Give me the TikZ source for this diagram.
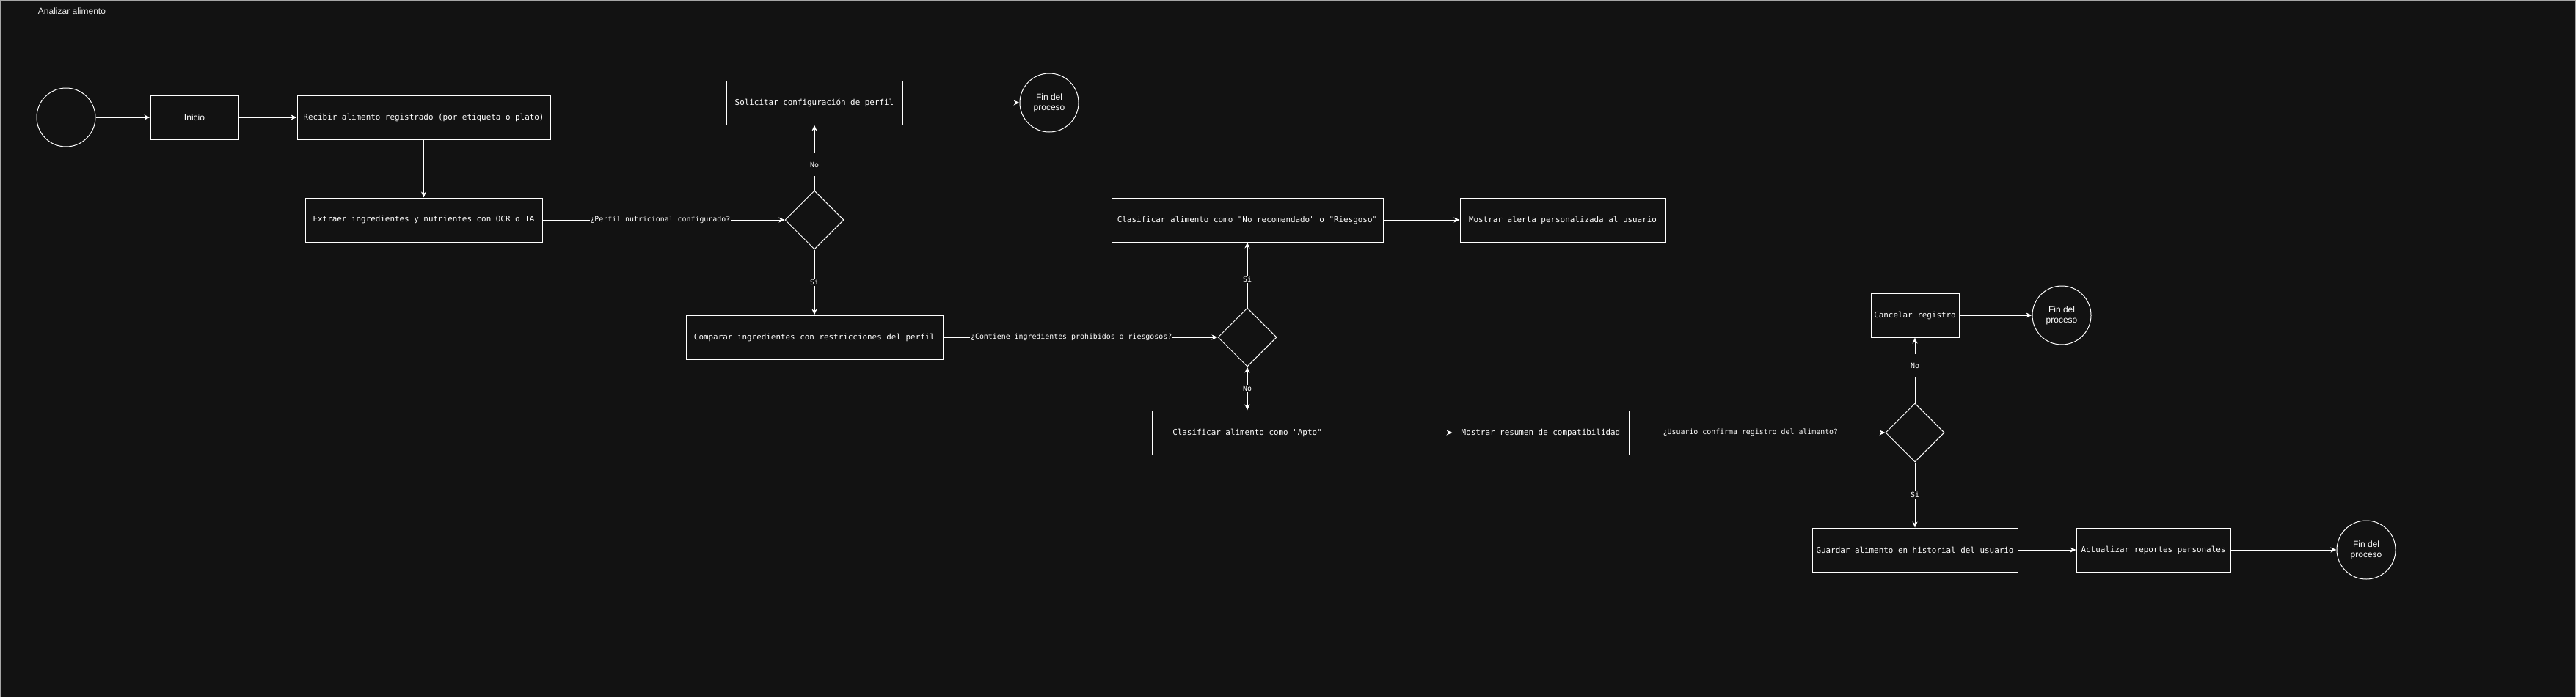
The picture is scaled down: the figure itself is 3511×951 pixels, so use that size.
\documentclass[tikz,border=0pt]{standalone}
\usepackage{fontspec}
\setmainfont{Liberation Sans}
\setmonofont{DejaVu Sans Mono}
\usetikzlibrary{shapes.geometric,arrows.meta}
\definecolor{fondo}{HTML}{121212}

\begin{document}
\begin{tikzpicture}[x=1pt, y=-1pt, line width=1pt, white,
  >={Stealth[length=8pt,width=7pt,inset=2.5pt]},
  caja/.style={draw=white, text=white, minimum height=60pt, inner sep=2pt, font=\ttfamily\fontsize{10.9}{13}\selectfont},
  rombo/.style={draw=white, diamond, minimum width=80pt, minimum height=80pt, inner sep=0pt},
  fin/.style={draw=white, circle, minimum size=80pt, inner sep=0pt, align=center, text=white, font=\fontsize{12}{14}\selectfont},
  etiq/.style={fill=fondo, text=white, inner sep=1pt, font=\ttfamily\fontsize{9.9}{12}\selectfont}]
\fill[fondo] (0,0) rectangle (3511,951);
\draw[gray!70, line width=1.5pt] (0.75,0.75) rectangle (3510.25,950.25);
\node[text=white!92!black, font=\fontsize{12}{14}\selectfont] (titulo) at (98,15) {Analizar alimento};

% primera parte
\node[fin] (ini) at (90,160) {};
\node[caja, minimum width=120pt, font=\fontsize{12}{14}\selectfont] (inicio) at (265,160) {Inicio};
\node[caja, minimum width=345pt] (recibir) at (577.5,160) {Recibir alimento registrado (por etiqueta o plato)};
\node[caja, minimum width=323pt] (extraer) at (577.5,300) {Extraer ingredientes y nutrientes con OCR o IA};
\node[rombo] (d1) at (1110,300) {};
\node[caja, minimum width=240pt] (solicitar) at (1110,140) {Solicitar configuración de perfil};
\node[fin] (fin1) at (1430,140) {Fin del\\proceso};
\node[caja, minimum width=350pt] (comparar) at (1110,460) {Comparar ingredientes con restricciones del perfil};

% clasificacion
\node[rombo] (d2) at (1700,460) {};
\node[caja, minimum width=370pt] (norec) at (1700,300) {Clasificar alimento como "No recomendado" o "Riesgoso"};
\node[caja, minimum width=280pt] (alerta) at (2130,300) {Mostrar alerta personalizada al usuario};
\node[caja, minimum width=260pt] (apto) at (1700,590) {Clasificar alimento como "Apto"};
\node[caja, minimum width=240pt] (resumen) at (2100,590) {Mostrar resumen de compatibilidad};

% registro
\node[rombo] (d3) at (2610,590) {};
\node[caja, minimum width=120pt] (cancelar) at (2610,430) {Cancelar registro};
\node[fin] (fin2) at (2810,430) {Fin del\\proceso};
\node[caja, minimum width=280pt] (guardar) at (2610,750) {Guardar alimento en historial del usuario};
\node[caja, minimum width=210pt] (actualizar) at (2935,750) {Actualizar reportes personales};
\node[fin] (fin3) at (3225,750) {Fin del\\proceso};

\draw[->] (ini) -- (inicio);
\draw[->] (inicio) -- (recibir);
\draw[->] (recibir) -- (extraer);
\draw[->] (extraer) -- node[etiq, pos=0.486] {¿Perfil nutricional configurado?} (d1);
\draw[->] (d1) -- node[etiq, pos=0.39, inner ysep=12pt] {No} (solicitar);
\draw[->] (solicitar) -- (fin1);
\draw[->] (d1) -- node[etiq] {Si} (comparar);
\draw[->] (comparar) -- node[etiq, pos=0.467] {¿Contiene ingredientes prohibidos o riesgosos?} (d2);
\draw[->] (d2) -- node[etiq, pos=0.43] {Si} (norec);
\draw[->] (norec) -- (alerta);
\draw[<->] (d2) -- node[etiq] {No} (apto);
\draw[->] (apto) -- (resumen);
\draw[->] (resumen) -- node[etiq, pos=0.474] {¿Usuario confirma registro del alimento?} (d3);
\draw[->] (d3) -- node[etiq, pos=0.57, inner ysep=12pt] {No} (cancelar);
\draw[->] (cancelar) -- (fin2);
\draw[->] (d3) -- node[etiq] {Si} (guardar);
\draw[->] (guardar) -- (actualizar);
\draw[->] (actualizar) -- (fin3);
\end{tikzpicture}
\end{document}
